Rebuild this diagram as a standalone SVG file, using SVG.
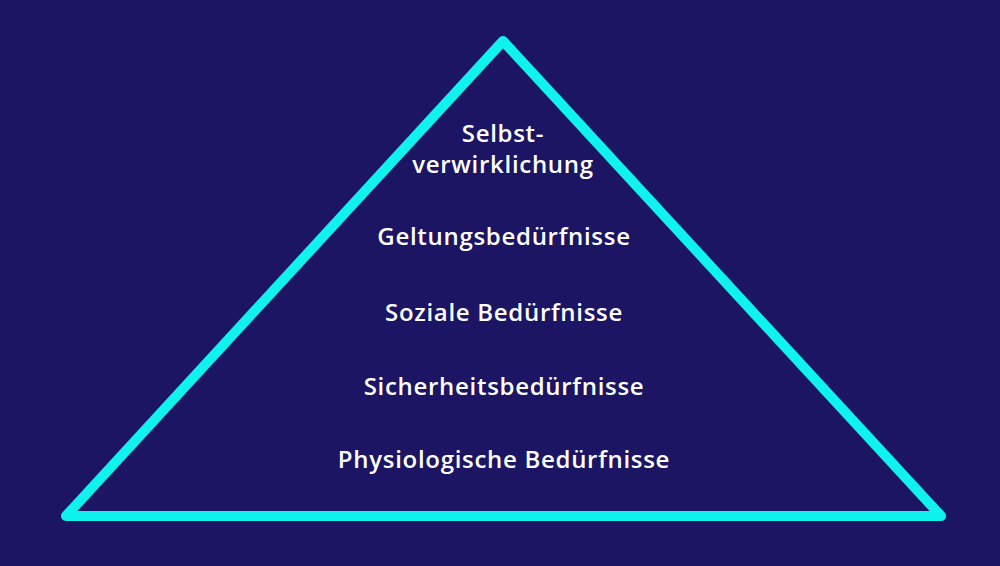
<svg xmlns="http://www.w3.org/2000/svg" width="1000" height="566" viewBox="0 0 1000 566">
<style>
.bg{fill:#1c1563}
.tri{fill:none;stroke:#0ff2ee;stroke-width:10;stroke-linejoin:round;stroke-linecap:round}
.lbl{fill:#ffffff;font-family:"Open Sans","Liberation Sans",sans-serif;font-weight:600;font-size:24px;letter-spacing:0.7px;text-anchor:middle}
</style>
<rect class="bg" x="0" y="0" width="1000" height="566"/>
<g id="pyramid">
<polygon class="tri" points="503,41 941,516 66,516"/>
</g>
<g id="level5"><text class="lbl" x="503" y="142">Selbst-</text><text class="lbl" x="503" y="173">verwirklichung</text></g>
<g id="level4"><text class="lbl" x="504" y="245">Geltungsbedürfnisse</text></g>
<g id="level3"><text class="lbl" x="504" y="321">Soziale Bedürfnisse</text></g>
<g id="level2"><text class="lbl" x="504" y="395">Sicherheitsbedürfnisse</text></g>
<g id="level1"><text class="lbl" x="504" y="468">Physiologische Bedürfnisse</text></g>
<g id="connectors"></g>
</svg>
